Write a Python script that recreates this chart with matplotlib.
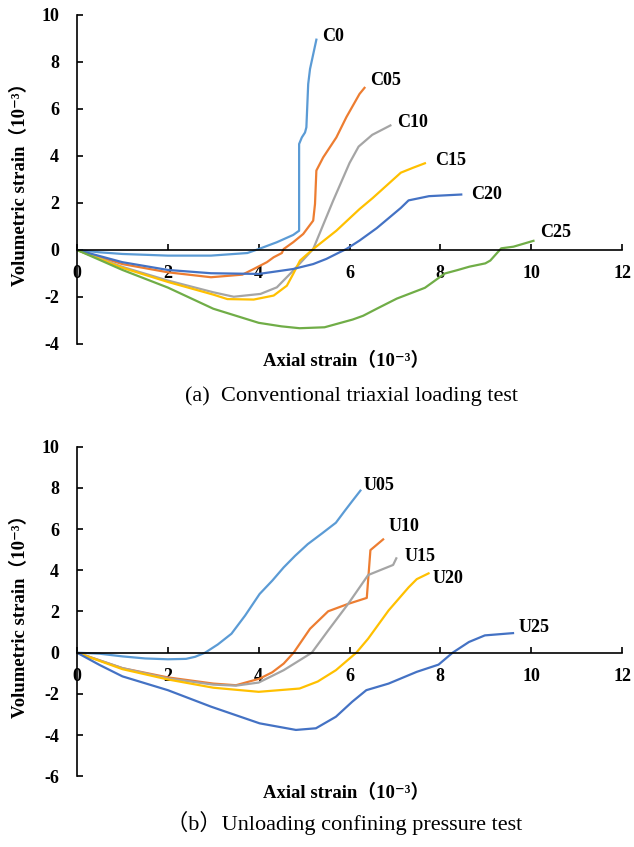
import matplotlib
matplotlib.use("Agg")
from matplotlib import pyplot as plt

plt.rcParams['font.family'] = ['Liberation Serif', 'DejaVu Serif', 'Noto Sans CJK SC']
plt.rcParams['axes.unicode_minus'] = False

# (a) conventional triaxial loading
c0_x = [0, 0.5, 1, 2, 2.95, 3.75, 4.0, 4.4, 4.76, 4.89, 4.89, 4.95, 5.02, 5.05, 5.09, 5.13, 5.27]
c0_y = [0, -0.1, -0.17, -0.24, -0.24, -0.13, 0.04, 0.33, 0.64, 0.82, 4.51, 4.79, 5.0, 5.22, 7.06, 7.7, 8.95]
c05_x = [0, 1, 2, 2.95, 3.64, 3.89, 4.18, 4.33, 4.51, 4.55, 4.76, 4.98, 5.2, 5.24, 5.27, 5.42, 5.71, 5.93, 6.22, 6.33]
c05_y = [0, -0.6, -0.95, -1.16, -1.05, -0.81, -0.52, -0.31, -0.13, 0.04, 0.33, 0.68, 1.25, 1.96, 3.38, 3.94, 4.79, 5.65, 6.64, 6.9]
c10_x = [0, 1, 2, 3, 3.45, 4.04, 4.4, 4.76, 5.2, 5.64, 6.0, 6.2, 6.5, 6.9]
c10_y = [0, -0.72, -1.3, -1.8, -1.99, -1.87, -1.59, -0.88, 0.04, 2.1, 3.7, 4.4, 4.9, 5.3]
c15_x = [0, 1, 2, 3, 3.31, 3.89, 4.33, 4.62, 4.76, 4.91, 5.2, 5.71, 6.22, 6.51, 7.13, 7.4, 7.66]
c15_y = [0, -0.76, -1.36, -1.9, -2.09, -2.11, -1.94, -1.52, -1.02, -0.45, 0.04, 0.82, 1.74, 2.21, 3.29, 3.5, 3.69]
c20_x = [0, 1, 2, 2.95, 4.0, 4.76, 5.2, 5.49, 5.78, 5.93, 6.22, 6.6, 7.13, 7.3, 7.75, 8.46]
c20_y = [0, -0.52, -0.85, -0.99, -1.02, -0.81, -0.6, -0.38, -0.1, 0.04, 0.4, 0.93, 1.79, 2.11, 2.29, 2.36]
c25_x = [0, 1, 2, 3, 4, 4.5, 4.9, 5.45, 6.07, 6.3, 6.6, 7.04, 7.66, 8.1, 8.37, 8.64, 8.99, 9.1, 9.34, 9.61, 10.05]
c25_y = [0, -0.85, -1.6, -2.5, -3.1, -3.25, -3.33, -3.29, -2.96, -2.8, -2.5, -2.07, -1.61, -1.0, -0.86, -0.71, -0.57, -0.45, 0.07, 0.14, 0.39]

# (b) unloading confining pressure
u05_x = [0, 0.5, 1, 1.5, 2, 2.4, 2.6, 2.82, 3.1, 3.4, 3.7, 4.02, 4.3, 4.55, 4.8, 5.08, 5.4, 5.7, 5.9, 6.06, 6.24]
u05_y = [0, -0.05, -0.18, -0.28, -0.32, -0.3, -0.2, 0, 0.4, 0.92, 1.8, 2.85, 3.5, 4.14, 4.7, 5.27, 5.8, 6.31, 6.9, 7.36, 7.87]
u10_x = [0, 1, 2, 3, 3.5, 4.02, 4.3, 4.55, 4.77, 5.13, 5.53, 5.97, 6.38, 6.46, 6.74]
u10_y = [0, -0.75, -1.2, -1.5, -1.58, -1.26, -0.95, -0.53, 0, 1.16, 2.01, 2.37, 2.66, 4.98, 5.5]
u15_x = [0, 1, 2, 3, 3.5, 4, 4.55, 5.17, 5.53, 5.97, 6.41, 6.96, 7.03]
u15_y = [0, -0.75, -1.25, -1.55, -1.6, -1.45, -0.85, 0, 1.08, 2.37, 3.77, 4.26, 4.58]
u20_x = [0, 1, 2, 3, 4, 4.9, 5.3, 5.7, 6.15, 6.41, 6.86, 7.3, 7.48, 7.74]
u20_y = [0, -0.8, -1.3, -1.7, -1.9, -1.74, -1.4, -0.85, 0, 0.68, 2.05, 3.17, 3.57, 3.85]
u25_x = [0, 0.5, 1, 2, 2.95, 4.02, 4.82, 5.26, 5.7, 6.06, 6.37, 6.86, 7.48, 7.96, 8.27, 8.63, 8.98, 9.6]
u25_y = [0, -0.6, -1.15, -1.82, -2.62, -3.43, -3.75, -3.67, -3.11, -2.38, -1.82, -1.5, -0.93, -0.58, 0, 0.52, 0.84, 0.95]

BLUE, ORANGE, GRAY, YELLOW, DBLUE, GREEN = '#5B9BD5', '#ED7D31', '#A5A5A5', '#FFC000', '#4472C4', '#70AD47'

top_series = [('C0', c0_x, c0_y, BLUE, (4, 2)),
              ('C05', c05_x, c05_y, ORANGE, (4, 5)),
              ('C10', c10_x, c10_y, GRAY, (5, 2)),
              ('C15', c15_x, c15_y, YELLOW, (7, 2)),
              ('C20', c20_x, c20_y, DBLUE, (7, 0)),
              ('C25', c25_x, c25_y, GREEN, (5, 6))]
bot_series = [('U05', u05_x, u05_y, BLUE, (2, 4)),
              ('U10', u10_x, u10_y, ORANGE, (4, 9)),
              ('U15', u15_x, u15_y, GRAY, (6, 1)),
              ('U20', u20_x, u20_y, YELLOW, (3, -4)),
              ('U25', u25_x, u25_y, DBLUE, (4, 4))]


def draw(ax, series, ymin):
    for name, xs, ys, col, off in series:
        ax.plot(xs, ys, color=col, lw=1.6, solid_joinstyle='round')
        ax.annotate(name, (xs[-1], ys[-1]), xytext=off, textcoords='offset points',
                    ha='left', va='center', fontsize=13, fontweight='bold')
    ax.set_xlim(0, 12)
    ax.set_ylim(ymin, 10)
    ax.set_xticks(range(0, 13, 2))
    ax.set_yticks(range(ymin, 11, 2))
    ax.spines['top'].set_visible(False)
    ax.spines['right'].set_visible(False)
    ax.spines['bottom'].set_position('zero')
    for s in ('left', 'bottom'):
        ax.spines[s].set_linewidth(1.2)
    ax.tick_params(axis='both', direction='in', length=4, width=1.2, labelsize=13)
    ax.tick_params(axis='y', pad=13)
    ax.tick_params(axis='x', pad=11)
    for lab in ax.get_xticklabels() + ax.get_yticklabels():
        lab.set_fontweight('bold')


fig = plt.figure(figsize=(6.34, 8.47), dpi=100)
ax1 = fig.add_axes([0.1215, 0.5939, 0.8596, 0.3884])
ax2 = fig.add_axes([0.1215, 0.0835, 0.8596, 0.3891])
draw(ax1, top_series, -4)
draw(ax2, bot_series, -6)

ylab = 'Volumetric strain（10⁻³）'
xlab = 'Axial strain（10⁻³）'
fig.text(0.032, 0.5939 + 0.3884 / 2, ylab, rotation=90, ha='center', va='center', fontsize=13.5, fontweight='bold')
fig.text(0.032, 0.0835 + 0.3891 / 2, ylab, rotation=90, ha='center', va='center', fontsize=13.5, fontweight='bold')
fig.text(0.546, 0.5738, xlab, ha='center', va='center', fontsize=13.5, fontweight='bold')
fig.text(0.546, 0.0641, xlab, ha='center', va='center', fontsize=13.5, fontweight='bold')
fig.text(0.555, 0.5320, '(a)  Conventional triaxial loading test', ha='center', va='center', fontsize=16)
fig.text(0.543, 0.0283, '（b）Unloading confining pressure test', ha='center', va='center', fontsize=16)

fig.savefig('out.png', dpi=100)
